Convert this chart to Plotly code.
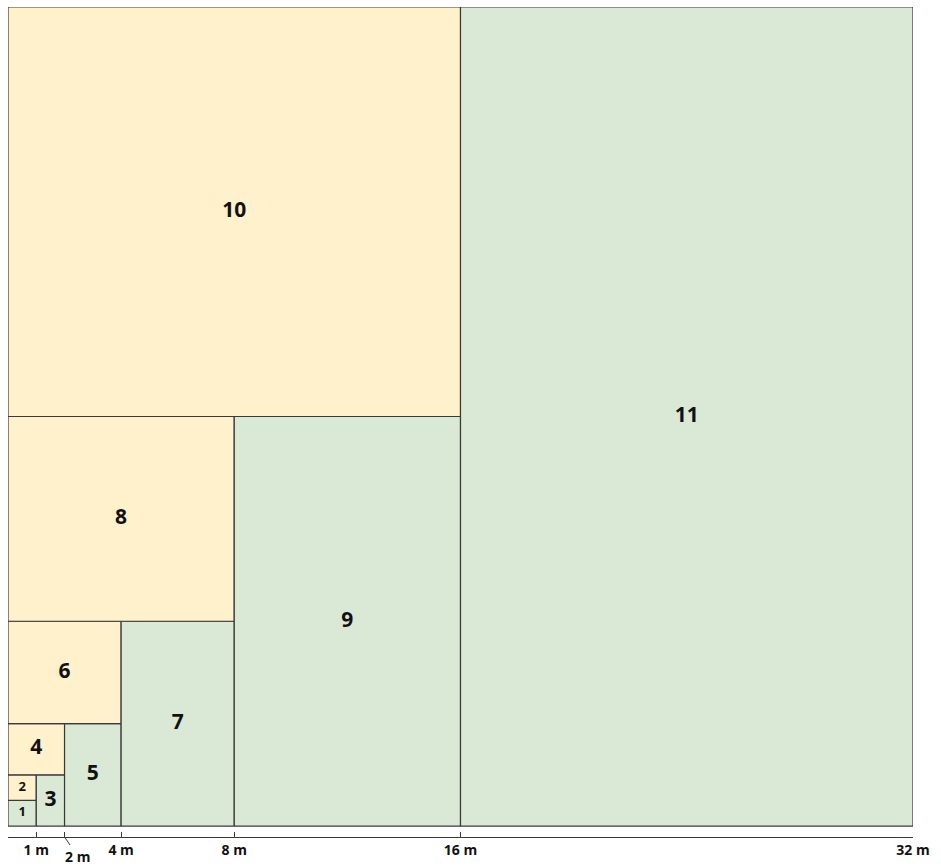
import plotly.graph_objects as go

labels = [1, 2, 3, 4, 5, 6, 7, 8, 9, 10, 11]
x0 = [0, 0, 1, 0, 2, 0, 4, 0, 8, 0, 16]
x1 = [1, 1, 2, 2, 4, 4, 8, 8, 16, 16, 32]
y0 = [0, 1, 0, 2, 0, 4, 0, 8, 0, 16, 0]
y1 = [1, 2, 2, 4, 4, 8, 8, 16, 16, 32, 32]

tick_vals = [0, 1, 2, 4, 8, 16, 32]
tick_text = ["", "1 m", "", "4 m", "8 m", "16 m", "32 m"]

GREEN = "#DAE9D5"
YELLOW = "#FEF1CC"
EDGE = "#3a3a3a"
FONT = "Open Sans"

fig = go.Figure()
for i, lab in enumerate(labels):
    color = GREEN if lab % 2 == 1 else YELLOW
    fig.add_trace(go.Scatter(
        x=[x0[i], x1[i], x1[i], x0[i], x0[i]],
        y=[y0[i], y0[i], y1[i], y1[i], y0[i]],
        mode="lines", fill="toself", fillcolor=color,
        line=dict(color=EDGE, width=1.2),
        hoverinfo="skip", showlegend=False))

cx = [(a + b) / 2 for a, b in zip(x0, x1)]
cy = [(a + b) / 2 for a, b in zip(y0, y1)]
sizes = [13 if lab <= 2 else 21 for lab in labels]
fig.add_trace(go.Scatter(
    x=cx, y=cy, mode="text", text=[str(l) for l in labels],
    textfont=dict(family=FONT, size=sizes, color="#111111", weight="bold"),
    hoverinfo="skip", showlegend=False))

fig.add_annotation(
    x=2, y=0, xref="x", yref="paper", text="<b>2 m</b>",
    showarrow=True, arrowhead=0, arrowwidth=1, arrowcolor=EDGE,
    ax=13, ay=19, font=dict(family=FONT, size=14, color="#111111"))

fig.update_xaxes(
    range=[0, 32], showgrid=False, zeroline=False,
    showline=True, linecolor=EDGE, linewidth=1.2,
    ticks="inside", ticklen=5, tickcolor=EDGE, tickwidth=1.2,
    tickvals=tick_vals, ticktext=tick_text, ticklabelstandoff=0,
    tickfont=dict(family=FONT, size=14, color="#111111", weight="bold"))
fig.update_yaxes(range=[-0.4287, 32], showgrid=False, zeroline=False,
                 showticklabels=False, showline=False)

fig.update_layout(
    width=941, height=866,
    margin=dict(l=8, r=28, t=7, b=25),
    paper_bgcolor="white", plot_bgcolor="white")

fig.write_html("out.html", config={"displayModeBar": False},
               post_script="document.body.style.margin='0';"
                           "document.body.style.overflow='hidden';")
